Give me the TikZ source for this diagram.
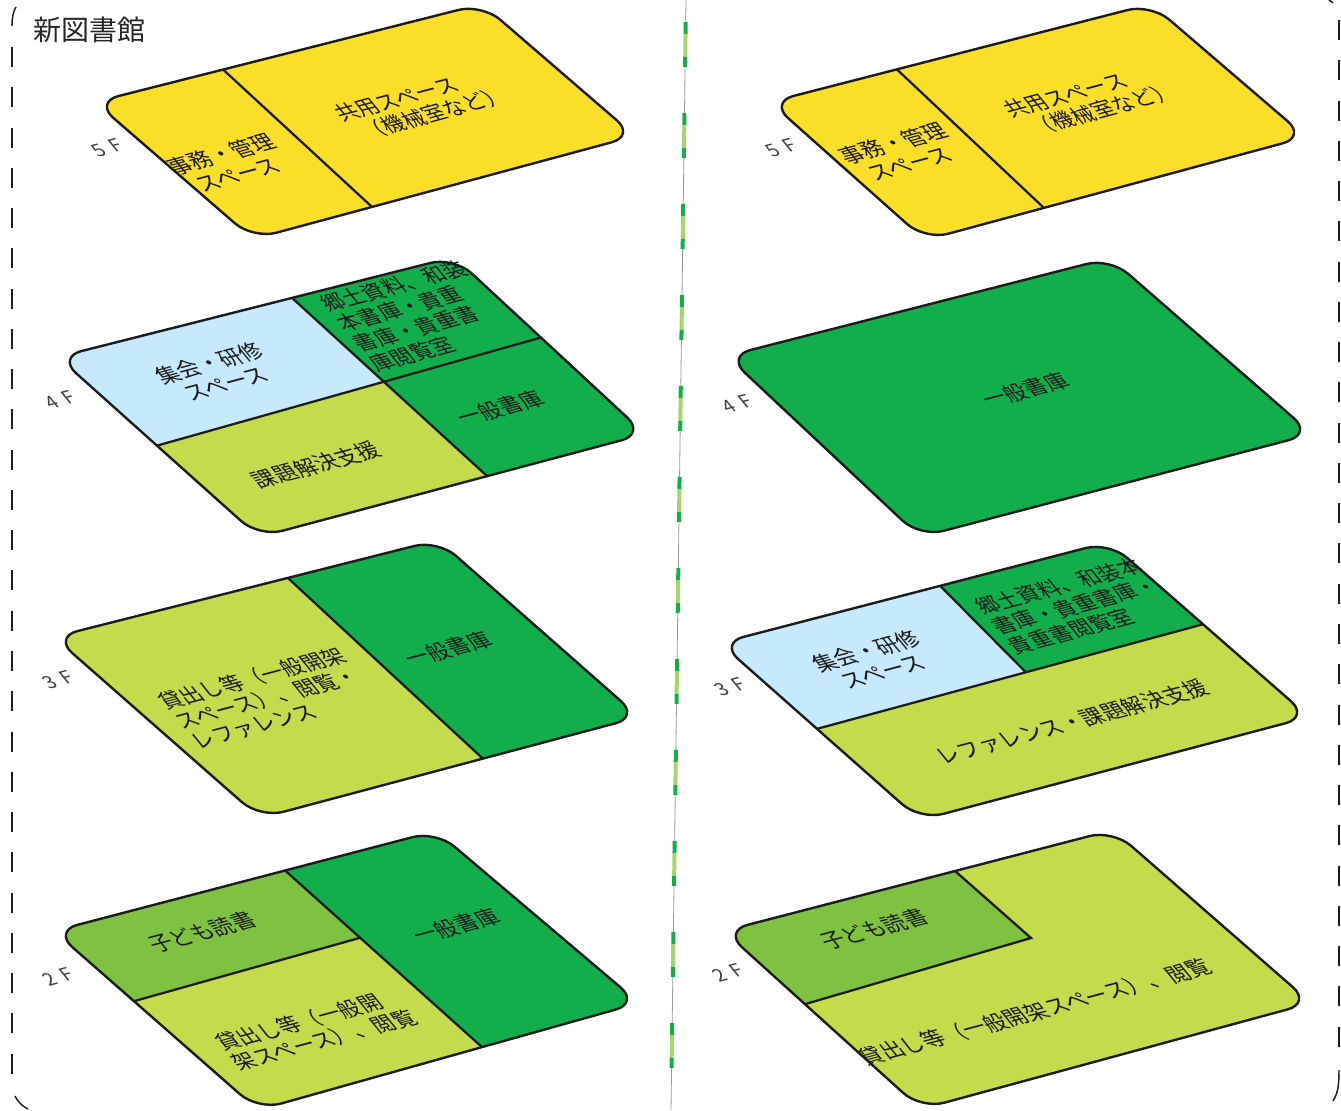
\documentclass[tikz,border=0pt]{standalone}
\usepackage{fontspec}
\setmainfont{Noto Sans CJK JP}
\usetikzlibrary{calc}

\definecolor{floorYellow}{HTML}{F9DF27}
\definecolor{floorGreen}{HTML}{12AE4C}
\definecolor{floorLime}{HTML}{C4DB4C}
\definecolor{floorBlue}{HTML}{C6E9FB}
\definecolor{floorKids}{HTML}{7FC241}
\definecolor{centreLime}{HTML}{A9D46B}
\definecolor{inkDark}{HTML}{1C1C1C}

\tikzset{
    plate line/.style={draw=inkDark, line width=1.8pt, line join=round},
    divider/.style={draw=inkDark, line width=1.7pt},
    frame dash/.style={draw=inkDark, line width=1.1pt, dash pattern=on 15pt off 15.2pt},
    room text/.style={font=\fontsize{16}{18}\selectfont, text=inkDark, align=center, rotate=15, xslant=-0.45, inner sep=0pt},
    room list/.style={room text, align=left, font=\fontsize{15.7}{17.5}\selectfont},
    floor label/.style={font=\fontsize{14}{15}\selectfont, text=black!75, rotate=15, xslant=-0.45, inner sep=0pt}
}

\newcommand{\setplate}[4]{
    \coordinate (l) at #1;
    \coordinate (t) at #2;
    \coordinate (r) at #3;
    \coordinate (b) at #4;
}
\newcommand{\plateedge}{($(l)!.5!(t)$) [rounded corners=18pt] -- (t) -- (r) -- (b) -- (l) [sharp corners] -- cycle}

\begin{document}
\begin{tikzpicture}[x=0.75pt,y=-0.75pt]
    \useasboundingbox (0,0) rectangle (1341,1110);

    % outer frame
    \coordinate (frame left top) at (12,47);
    \coordinate (frame left end) at (12,1078);
    \coordinate (frame right top) at (1339,20);
    \coordinate (frame right end) at (1339,1052);
    \draw[frame dash] (frame left top) -- (frame left end);
    \draw[frame dash] (frame right top) -- (frame right end);
    \draw[inkDark, line width=1.1pt] (12,26) .. controls (12,18) and (13,12) .. (16,7);
    \draw[inkDark, line width=1.1pt] (15,1096) .. controls (18,1102) and (22,1106) .. (28,1109);
    \draw[inkDark, line width=1.1pt] (1339,1070) .. controls (1339,1085) and (1338,1093) .. (1333,1101);
    \draw[inkDark, line width=1.1pt] (1329,0) -- (1333,3);

    % centre line
    \coordinate (centre top) at (686,0);
    \coordinate (centre end) at (671,1110);
    \draw[black!40, line width=0.6pt] (centre top) -- (centre end);
    \foreach \i in {0,...,11} {
        \pgfmathsetmacro{\ya}{(22+91*\i)/1110}
        \pgfmathsetmacro{\yb}{(34+91*\i)/1110}
        \pgfmathsetmacro{\yc}{(57+91*\i)/1110}
        \pgfmathsetmacro{\yd}{(67+91*\i)/1110}
        \draw[floorGreen, line width=3pt] ($(centre top)!\ya!(centre end)$) -- ($(centre top)!\yb!(centre end)$);
        \draw[centreLime, line width=3pt] ($(centre top)!\yb!(centre end)$) -- ($(centre top)!\yc!(centre end)$);
        \draw[floorGreen, line width=3pt] ($(centre top)!\yc!(centre end)$) -- ($(centre top)!\yd!(centre end)$);
    }

    \node (title) [font=\fontsize{21}{23}\selectfont, text=black!85, inner sep=0pt] at (89,30) {新図書館};

    % left, 5F
    \setplate{(95,102)}{(482,4)}{(635,136)}{(253,239)}
    \coordinate (a) at ($(l)!.331!(t)$);
    \coordinate (c) at ($(b)!.3115!(r)$);
    \fill[floorYellow] \plateedge;
    \draw[divider] (a) -- (c);
    \draw[plate line] \plateedge;
    \node (left five office) [room text] at (229,164) {事務・管理\\スペース};
    \node (left five shared) [room list] at (421,105) {共用スペース\\\hspace*{.5em}（機械室など）};
    \node (left five label) [floor label] at (107,148) {5 \,F};

    % left, 4F
    \setplate{(58,357)}{(454,257)}{(645,434)}{(259,537)}
    \coordinate (a) at ($(l)!.591!(t)$);
    \coordinate (c) at ($(b)!.591!(r)$);
    \coordinate (d) at ($(l)!.4925!(b)$);
    \coordinate (e) at ($(t)!.455!(r)$);
    \coordinate (m) at (intersection of a--c and d--e);
    \fill[floorGreen] \plateedge;
    \begin{scope}
        \clip \plateedge;
        \fill[floorBlue] (l) -- (a) -- (m) -- (d) -- cycle;
        \fill[floorLime] (d) -- (m) -- (c) -- (b) -- cycle;
    \end{scope}
    \draw[divider] (a) -- (c);
    \draw[divider] (d) -- (e);
    \draw[plate line] \plateedge;
    \node (left four meeting) [room text] at (217,373) {集会・研修\\スペース};
    \node (left four local) [room list] at (418,316) {郷土資料、和装\\本書庫・貴重\\書庫・貴重書\\庫閲覧室};
    \node (left four stack) [room text] at (500,408) {一般書庫};
    \node (left four support) [room text] at (316,465) {課題解決支援};
    \node (left four label) [floor label] at (60,400) {4 \,F};

    % left, 3F
    \setplate{(54,637)}{(438,540)}{(639,717)}{(260,818)}
    \coordinate (a) at ($(l)!.609!(t)$);
    \coordinate (c) at ($(b)!.588!(r)$);
    \fill[floorLime] \plateedge;
    \begin{scope}
        \clip \plateedge;
        \fill[floorGreen] (a) -- (t) -- (r) -- (c) -- cycle;
    \end{scope}
    \draw[divider] (a) -- (c);
    \draw[plate line] \plateedge;
    \node (left three lending) [room list] at (268,698) {貸出し等（一般開架\\スペース）、閲覧・\\レファレンス};
    \node (left three stack) [room text] at (448,649) {一般書庫};
    \node (left three label) [floor label] at (58,680) {3 \,F};

    % left, 2F
    \setplate{(54,931)}{(436,831)}{(639,1003)}{(258,1110)}
    \coordinate (a) at ($(l)!.605!(t)$);
    \coordinate (c) at ($(b)!.588!(r)$);
    \coordinate (d) at ($(l)!.392!(b)$);
    \coordinate (e) at ($(a)!.381!(c)$);
    \fill[floorLime] \plateedge;
    \begin{scope}
        \clip \plateedge;
        \fill[floorGreen] (a) -- (t) -- (r) -- (c) -- cycle;
        \fill[floorKids] (l) -- (a) -- (e) -- (d) -- cycle;
    \end{scope}
    \draw[divider] (a) -- (c);
    \draw[divider] (d) -- (e);
    \draw[plate line] \plateedge;
    \node (left two kids) [room text] at (202,932) {子ども読書};
    \node (left two stack) [room text] at (456,926) {一般書庫};
    \node (left two lending) [room list] at (316,1030) {貸出し等（一般開\\架スペース）、閲覧};
    \node (left two label) [floor label] at (58,977) {2 \,F};

    % right, 5F
    \setplate{(770,102)}{(1151,4)}{(1306,137)}{(925,240)}
    \coordinate (a) at ($(l)!.333!(t)$);
    \coordinate (c) at ($(b)!.312!(r)$);
    \fill[floorYellow] \plateedge;
    \draw[divider] (a) -- (c);
    \draw[plate line] \plateedge;
    \node (right five office) [room text] at (901,153) {事務・管理\\スペース};
    \node (right five shared) [room list] at (1090,101) {共用スペース\\\hspace*{.5em}（機械室など）};
    \node (right five label) [floor label] at (781,148) {5 \,F};

    % right, 4F
    \setplate{(727,356)}{(1110,258)}{(1312,434)}{(920,537)}
    \fill[floorGreen] \plateedge;
    \draw[plate line] \plateedge;
    \node (right four stack) [room text] at (1025,390) {一般書庫};
    \node (right four label) [floor label] at (737,404) {4 \,F};

    % right, 3F
    \setplate{(720,643)}{(1109,542)}{(1309,717)}{(920,820)}
    \coordinate (a) at ($(l)!.566!(t)$);
    \coordinate (d) at ($(l)!.485!(b)$);
    \coordinate (e) at ($(t)!.47!(r)$);
    \coordinate (m) at ($(d)!.541!(e)$);
    \fill[floorLime] \plateedge;
    \begin{scope}
        \clip \plateedge;
        \fill[floorBlue] (l) -- (a) -- (m) -- (d) -- cycle;
        \fill[floorGreen] (a) -- (t) -- (e) -- (m) -- cycle;
    \end{scope}
    \draw[divider] (a) -- (m);
    \draw[divider] (d) -- (e);
    \draw[plate line] \plateedge;
    \node (right three meeting) [room text] at (874,661) {集会・研修\\スペース};
    \node (right three local) [room list] at (1075,606) {郷土資料、和装本\\書庫・貴重書庫・\\貴重書閲覧室};
    \node (right three reference) [room text] at (1072,722) {レファレンス・課題解決支援};
    \node (right three label) [floor label] at (730,687) {3 \,F};

    % right, 2F
    \setplate{(724,931)}{(1113,830)}{(1311,1003)}{(921,1109)}
    \coordinate (a) at ($(l)!.594!(t)$);
    \coordinate (m) at (1031,938);
    \coordinate (d) at ($(l)!.411!(b)$);
    \fill[floorLime] \plateedge;
    \begin{scope}
        \clip \plateedge;
        \fill[floorKids] (l) -- (a) -- (m) -- (d) -- cycle;
    \end{scope}
    \draw[divider] (a) -- (m) -- (d);
    \draw[plate line] \plateedge;
    \node (right two kids) [room text] at (874,929) {子ども読書};
    \node (right two lending) [room text] at (1035,1012) {貸出し等（一般開架スペース）、閲覧};
    \node (right two label) [floor label] at (728,973) {2 \,F};
\end{tikzpicture}
\end{document}
